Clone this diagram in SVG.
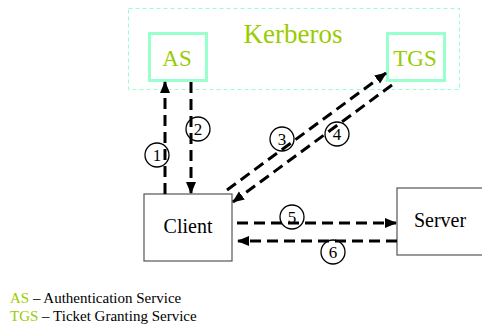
<svg xmlns="http://www.w3.org/2000/svg" width="482" height="326" viewBox="0 0 482 326">
<style>
.t{font-family:"Liberation Serif","Times New Roman",serif;}
.g{fill:#99CC00;}
.k{fill:#000;}
.mint{fill:#fff;stroke:#99FFCC;stroke-width:3;}
.box{fill:#fff;stroke:#555;stroke-width:1.2;}
.arr{fill:none;stroke:#000;stroke-width:3;stroke-dasharray:11 6;marker-end:url(#ah);}
.num{fill:none;stroke:#000;stroke-width:1.3;}
</style>
<defs>
<marker id="ah" markerUnits="userSpaceOnUse" markerWidth="12" markerHeight="12" viewBox="0 0 12 12" refX="11" refY="6" orient="auto">
<path d="M0,1 L12,6 L0,11 Z" fill="#000"/>
</marker>
</defs>
<rect width="482" height="326" fill="#fff"/>
<g id="kerberos">
<rect x="128.5" y="8.5" width="331" height="81" fill="none" stroke="#99FFCC" stroke-width="1" stroke-dasharray="4 3"/>
<text class="t g" x="293" y="43" font-size="27" text-anchor="middle">Kerberos</text>
</g>
<g id="as">
<rect class="mint" x="149.5" y="33.5" width="57" height="47"/>
<text class="t g" x="177" y="66" font-size="23" text-anchor="middle">AS</text>
</g>
<g id="tgs">
<rect class="mint" x="387.5" y="33.5" width="57" height="47"/>
<text class="t g" x="415" y="66" font-size="23" text-anchor="middle">TGS</text>
</g>
<g id="client">
<rect class="box" x="144" y="194" width="88" height="67"/>
<text class="t k" x="188" y="233" font-size="20" text-anchor="middle">Client</text>
</g>
<g id="server">
<rect class="box" x="397" y="188" width="92" height="67"/>
<text class="t k" x="440" y="227" font-size="20" text-anchor="middle">Server</text>
</g>
<g id="connectors">
<path class="arr" d="M165,194 L165,82"/>
<path class="arr" d="M191,82 L191,193"/>
<path class="arr" d="M227,190 L386,73"/>
<path class="arr" d="M392,85 L233,202"/>
<path class="arr" d="M237,223 L396,223"/>
<path class="arr" d="M397,241 L238,241"/>
<g id="labels">
<circle class="num" cx="157" cy="155" r="12"/>
<text class="t k" x="157" y="161" font-size="17" text-anchor="middle">1</text>
<circle class="num" cx="198" cy="129" r="12"/>
<text class="t k" x="198" y="135" font-size="17" text-anchor="middle">2</text>
<circle class="num" cx="282" cy="139" r="12"/>
<text class="t k" x="282" y="145" font-size="17" text-anchor="middle">3</text>
<circle class="num" cx="337" cy="134" r="12"/>
<text class="t k" x="337" y="140" font-size="17" text-anchor="middle">4</text>
<circle class="num" cx="292" cy="217" r="12"/>
<text class="t k" x="292" y="223" font-size="17" text-anchor="middle">5</text>
<circle class="num" cx="333" cy="252" r="12"/>
<text class="t k" x="333" y="258" font-size="17" text-anchor="middle">6</text>
</g>
</g>
<g id="legend">
<text class="t k" x="10" y="303" font-size="15"><tspan class="g">AS</tspan> – Authentication Service</text>
<text class="t k" x="10" y="321" font-size="15"><tspan class="g">TGS</tspan> – Ticket Granting Service</text>
</g>
</svg>
